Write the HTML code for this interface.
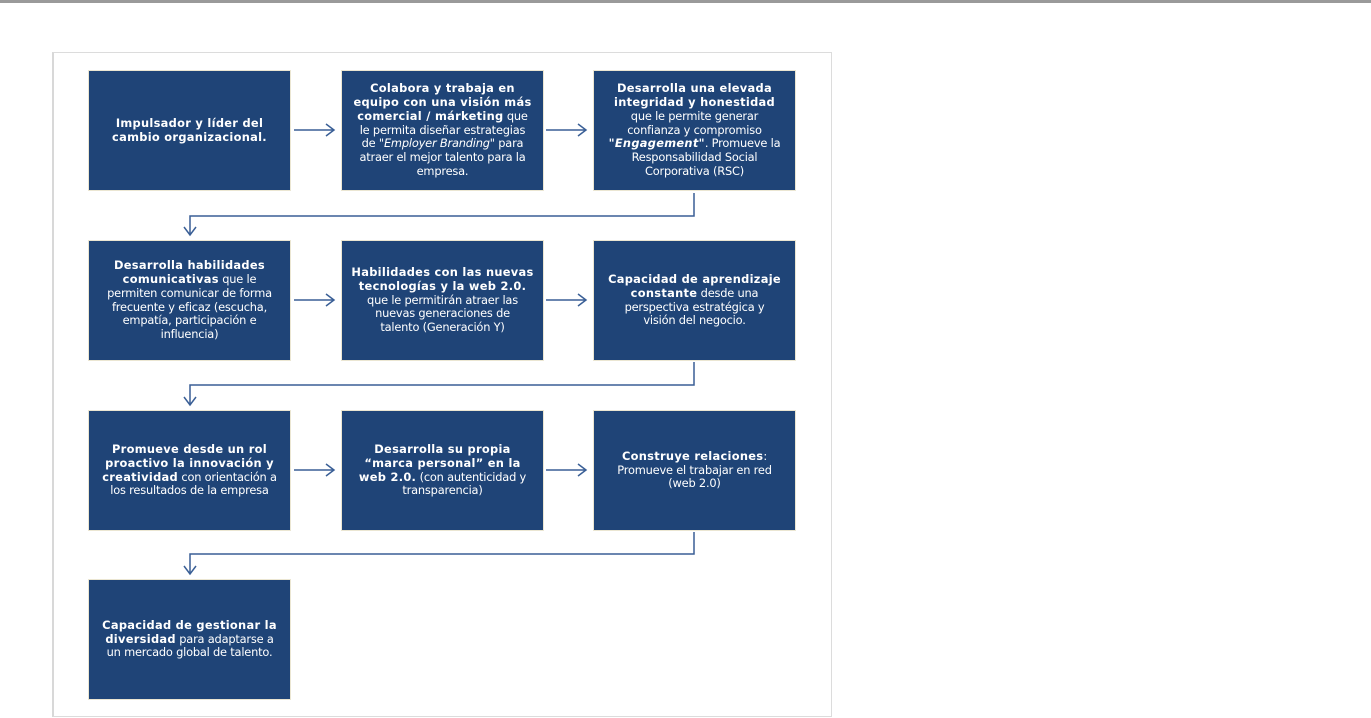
<!DOCTYPE html>
<html><head><meta charset="utf-8"><style>
body{margin:0;width:1371px;height:718px;background:#fff;position:relative;overflow:hidden;font-family:"DejaVu Sans","Liberation Sans",sans-serif;}
.top{position:absolute;left:0;top:0;width:1371px;height:3px;background:#9a9a9a;}
.frame{position:absolute;left:52px;top:52px;width:777px;height:663px;border:1px solid #dcdcdc;border-left:2px solid #d8d8d8;}
.b{position:absolute;width:203px;height:121px;background:#1f4477;border:1px solid #ebe6d2;box-sizing:border-box;color:#fff;font-size:11.4px;line-height:13.8px;text-align:center;display:flex;align-items:center;justify-content:center;white-space:nowrap;letter-spacing:-0.2px;}
.b b{font-weight:bold;letter-spacing:0.3px}
svg{position:absolute;left:0;top:0}
</style></head><body>
<div class="top"></div>
<div class="frame"></div>
<div class="b" style="left:88px;top:70px"><div><b>Impulsador y líder del<br>cambio organizacional.</b></div></div>
<div class="b" style="left:341px;top:70px"><div><b>Colabora y trabaja en<br>equipo con una visión más<br>comercial / márketing</b> que<br>le permita diseñar estrategias<br>de "<i>Employer Branding</i>" para<br>atraer el mejor talento para la<br>empresa.</div></div>
<div class="b" style="left:593px;top:70px"><div><b>Desarrolla una elevada<br>integridad y honestidad</b><br>que le permite generar<br>confianza y compromiso<br><b><i>"Engagement"</i></b>. Promueve la<br>Responsabilidad Social<br>Corporativa (RSC)</div></div>
<div class="b" style="left:88px;top:240px"><div><b>Desarrolla habilidades<br>comunicativas</b> que le<br>permiten comunicar de forma<br>frecuente y eficaz (escucha,<br>empatía, participación e<br>influencia)</div></div>
<div class="b" style="left:341px;top:240px"><div><b>Habilidades con las nuevas<br>tecnologías y la web 2.0.</b><br>que le permitirán atraer las<br>nuevas generaciones de<br>talento (Generación Y)</div></div>
<div class="b" style="left:593px;top:240px"><div><b>Capacidad de aprendizaje<br>constante</b> desde una<br>perspectiva estratégica y<br>visión del negocio.</div></div>
<div class="b" style="left:88px;top:410px"><div><b>Promueve desde un rol<br>proactivo la innovación y<br>creatividad</b> con orientación a<br>los resultados de la empresa</div></div>
<div class="b" style="left:341px;top:410px"><div><b>Desarrolla su propia<br>“marca personal” en la<br>web 2.0.</b> (con autenticidad y<br>transparencia)</div></div>
<div class="b" style="left:593px;top:410px"><div><b>Construye relaciones</b>:<br>Promueve el trabajar en red<br>(web 2.0)</div></div>
<div class="b" style="left:88px;top:579px"><div><b>Capacidad de gestionar la<br>diversidad</b> para adaptarse a<br>un mercado global de talento.</div></div>
<svg width="1371" height="718" fill="none" stroke="#3a5f96" stroke-width="1.5">
<g>
<path d="M294 130H333M326 124L334 130L326 136"/>
<path d="M546 130H585M578 124L586 130L578 136"/>
<path d="M294 300H333M326 294L334 300L326 306"/>
<path d="M546 300H585M578 294L586 300L578 306"/>
<path d="M294 470H333M326 464L334 470L326 476"/>
<path d="M546 470H585M578 464L586 470L578 476"/>
<path d="M694 193V216H190V234M184 227L190 235L196 227"/>
<path d="M694 362V385H190V404M184 397L190 405L196 397"/>
<path d="M694 532V554H190V573M184 566L190 574L196 566"/>
</g>
</svg>
</body></html>
